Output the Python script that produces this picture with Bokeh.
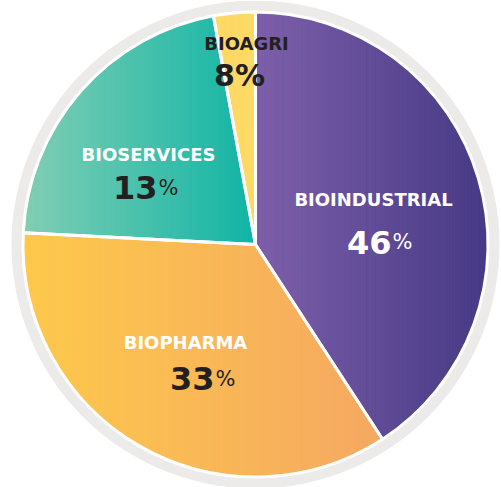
import numpy as np
from bokeh.plotting import figure
from bokeh.models import Range1d
from bokeh.core.properties import value
from bokeh.embed import file_html
from bokeh.resources import INLINE

# ---- data ----
segments = ["BIOINDUSTRIAL", "BIOPHARMA", "BIOSERVICES", "BIOAGRI"]
slice_share = [40.8, 35.0, 21.3, 2.9]          # slice sizes as drawn in the picture
pct_labels = ["46", "33", "13", "8"]           # printed percentages
left_colors = ["#7E5FAA", "#FDC94A", "#82CEB3", "#FDD965"]
right_colors = ["#463985", "#F5A862", "#10B4A5", "#FDD965"]

# ---- geometry ----
R = 232.5
shares = np.array(slice_share, dtype=float)
frac = shares / shares.sum()
cum = np.concatenate([[0.0], np.cumsum(frac)]) * 2 * np.pi   # clockwise from top
start_std = np.pi / 2 - cum[1:]
end_std = np.pi / 2 - cum[:-1]


def hex2rgb(h):
    h = h.lstrip("#")
    return np.array([int(h[i:i + 2], 16) for i in (0, 2, 4)], dtype=float)


def rgb2hex(c):
    c = np.clip(np.round(c), 0, 255).astype(int)
    return "#%02x%02x%02x" % tuple(c)


def clip_x(poly, xlim, keep_ge):
    out = []
    n = len(poly)
    for i in range(n):
        P = poly[i]
        Q = poly[(i + 1) % n]
        pin = P[0] >= xlim if keep_ge else P[0] <= xlim
        qin = Q[0] >= xlim if keep_ge else Q[0] <= xlim
        if pin:
            out.append(P)
        if pin != qin:
            t = (xlim - P[0]) / (Q[0] - P[0])
            out.append((xlim, P[1] + t * (Q[1] - P[1])))
    return out


xs_all, ys_all, cols_all = [], [], []
for i in range(len(shares)):
    a = np.linspace(start_std[i], end_std[i], 240)
    poly = [(0.0, 0.0)] + [(R * np.cos(t), R * np.sin(t)) for t in a]
    xmin = min(p[0] for p in poly)
    xmax = max(p[0] for p in poly)
    n = max(2, int((xmax - xmin) / 3))
    edges = np.linspace(xmin, xmax, n + 1)
    c0, c1 = hex2rgb(left_colors[i]), hex2rgb(right_colors[i])
    for k in range(n):
        sub = clip_x(poly, edges[k], True)
        if len(sub) < 3:
            continue
        sub = clip_x(sub, edges[k + 1], False)
        if len(sub) < 3:
            continue
        t = (k + 0.5) / n
        xs_all.append([p[0] for p in sub])
        ys_all.append([p[1] for p in sub])
        cols_all.append(rgb2hex(c0 + (c1 - c0) * t))

p = figure(width=501, height=487, x_range=Range1d(-255, 246), y_range=Range1d(-243, 244),
           output_backend="svg", toolbar_location=None, min_border=0,
           x_axis_location=None, y_axis_location=None)
p.grid.visible = False
p.outline_line_color = None
p.background_fill_color = "white"

# outer grey ring
p.annulus(x=0, y=0, inner_radius=233.5, outer_radius=244, fill_color="#ECEBEA", line_color=None)

# gradient slices
p.patches(xs=xs_all, ys=ys_all, fill_color=cols_all, line_color=cols_all, line_width=1)

# white separators
p.wedge(x=0, y=0, radius=R, start_angle=list(start_std), end_angle=list(end_std),
        fill_color=None, line_color="white", line_width=3)

# ---- labels ----
name_x = [118, -70, -107, -9]
name_y = [44.7, -97.7, 90, 200.7]
name_colors = ["white", "white", "white", "#231F20"]
p.text(x=name_x, y=name_y, text=segments, text_font=value("DejaVu Sans"), text_font_style="bold",
       text_font_size="18px", text_color=name_colors, text_align="center", text_baseline="alphabetic")

num_x = [136, -41, -98]
num_y = [2.3, -134, 56.7]
num_colors = ["white", "#231F20", "#231F20"]
p.text(x=num_x, y=num_y, text=pct_labels[:3], text_font=value("DejaVu Sans"), text_font_style="bold",
       text_font_size="32px", text_color=num_colors, text_align="right", text_baseline="alphabetic")
p.text(x=[v + 1 for v in num_x], y=num_y, text=["%"] * 3, text_font=value("DejaVu Sans"),
       text_font_style="normal", text_font_size="21px", text_color=num_colors,
       text_align="left", text_baseline="alphabetic")
p.text(x=[-16], y=[169], text=[pct_labels[3] + "%"], text_font=value("DejaVu Sans"), text_font_style="bold",
       text_font_size="30px", text_color="#231F20", text_align="center", text_baseline="alphabetic")

open("out.html", "w").write(file_html(p, INLINE))
